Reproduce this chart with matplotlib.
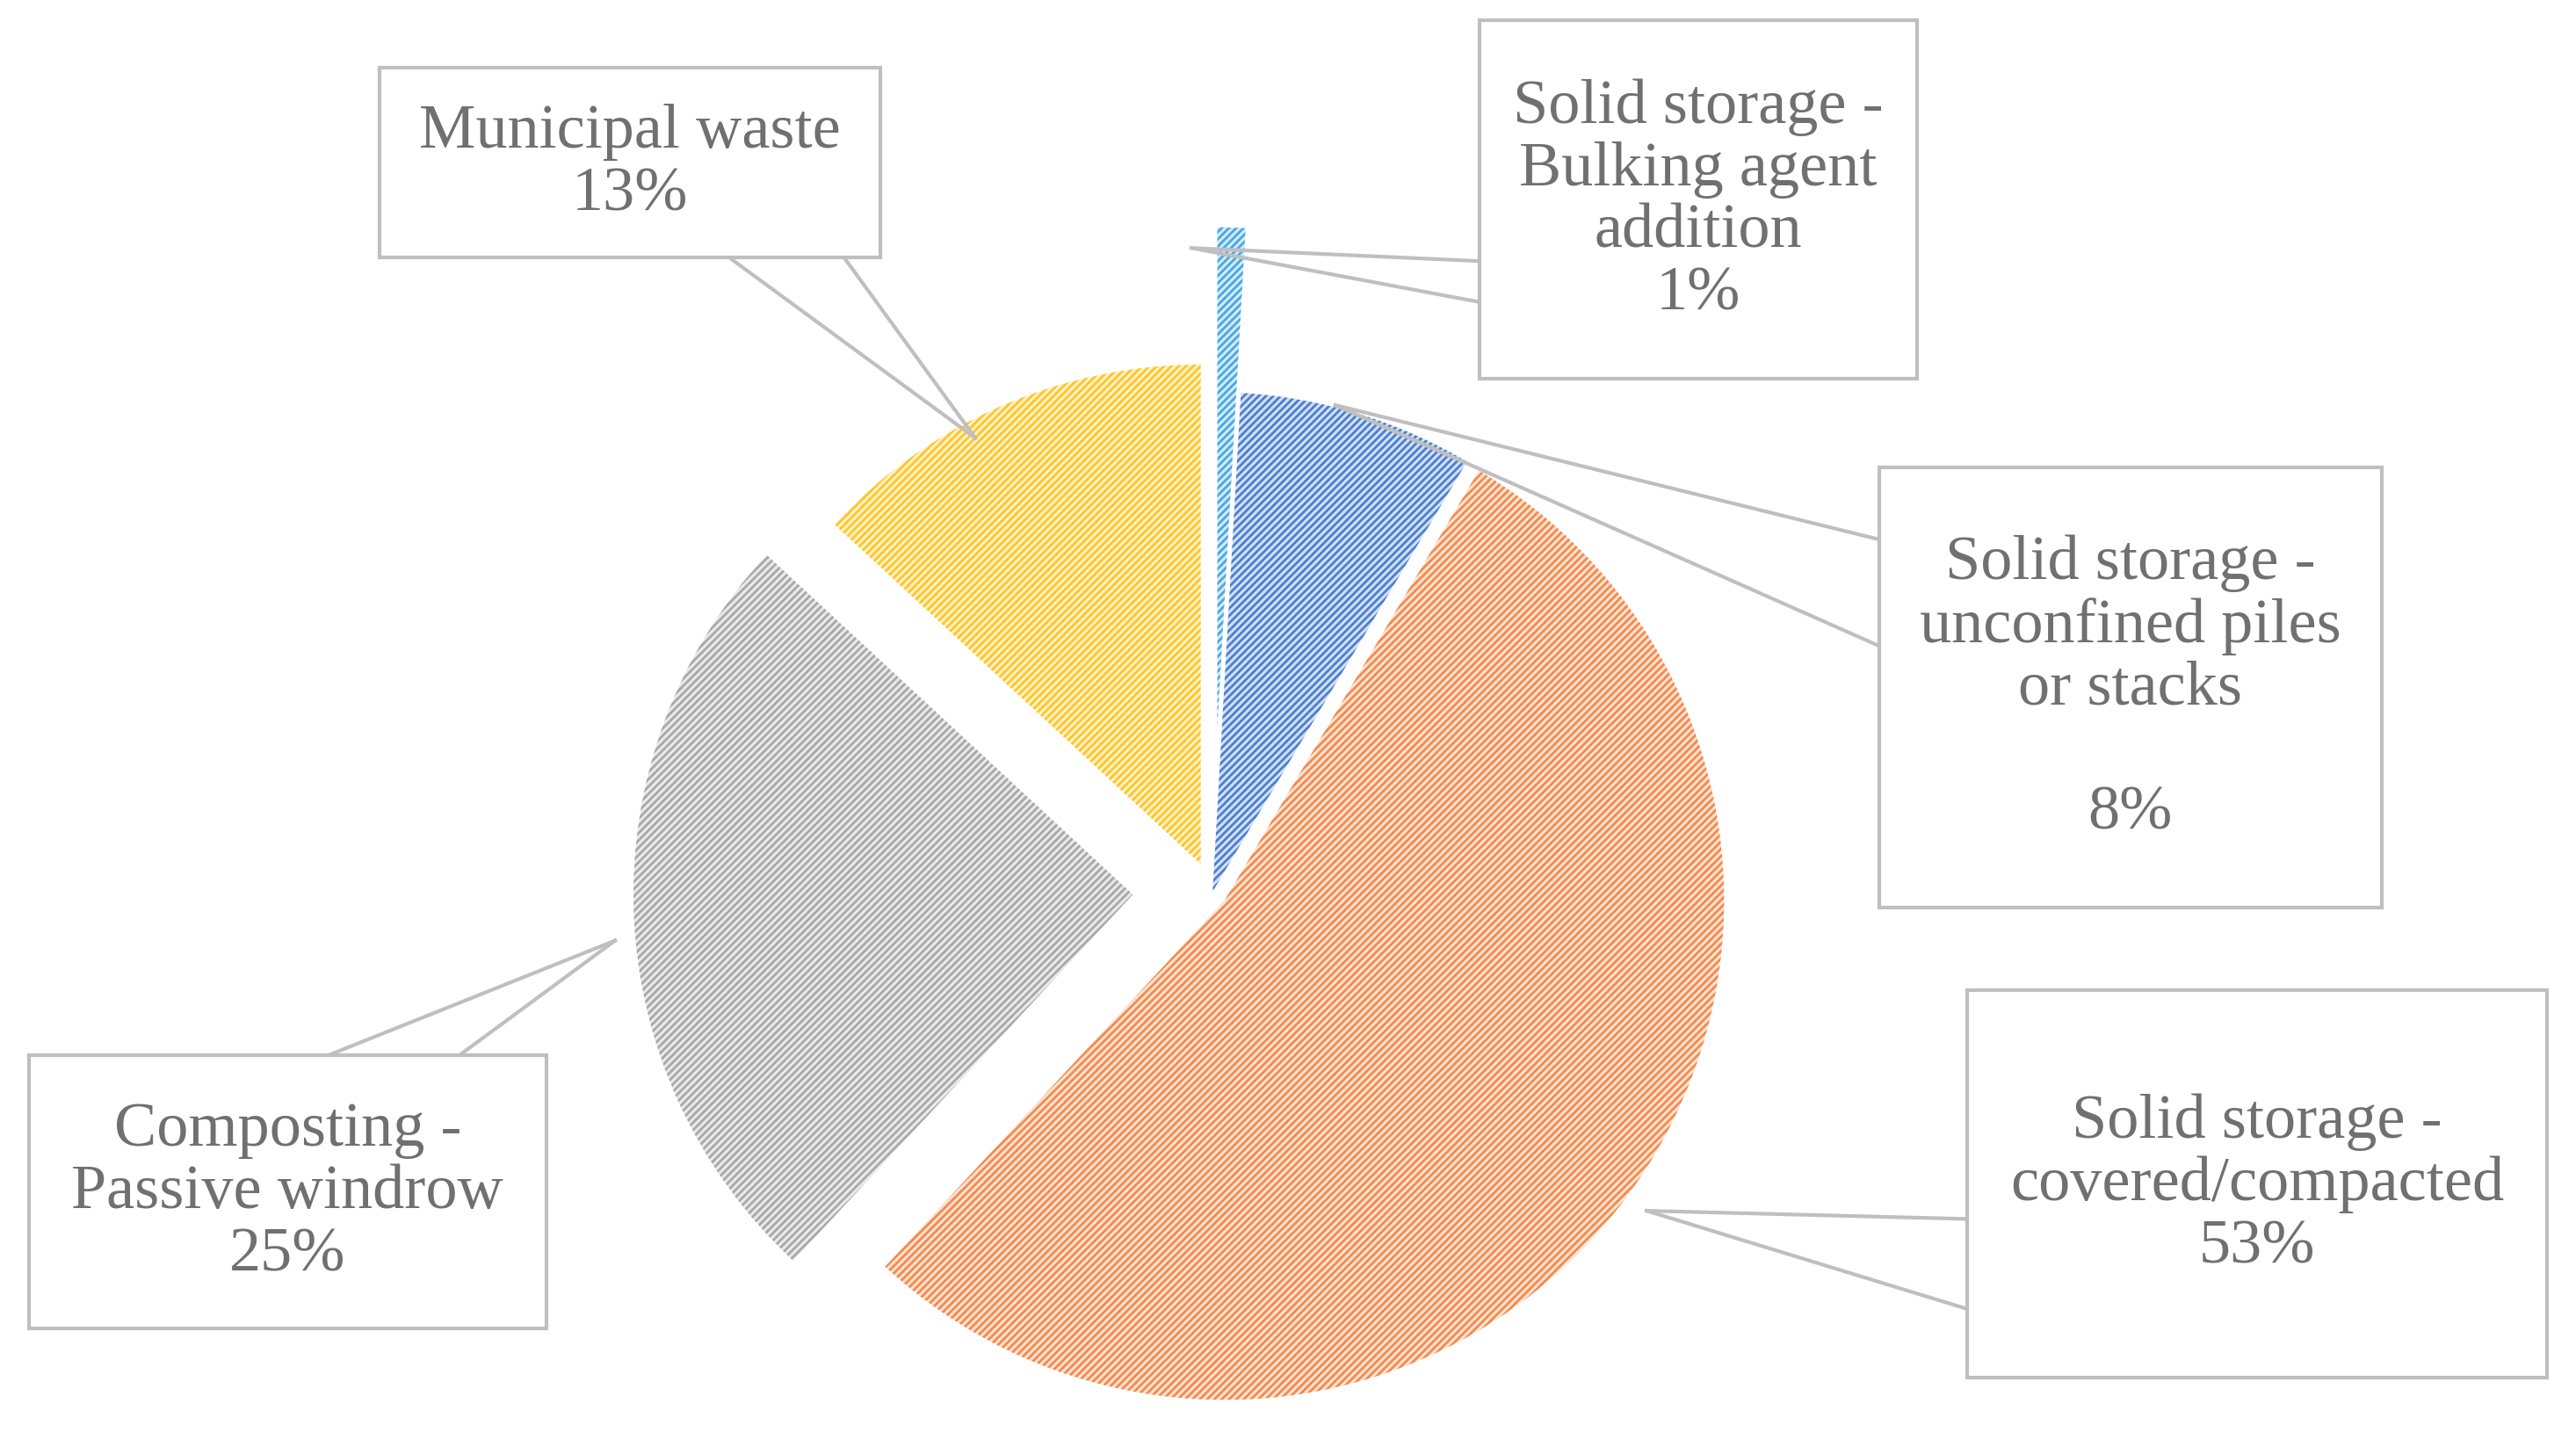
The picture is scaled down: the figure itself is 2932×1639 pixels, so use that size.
import matplotlib.pyplot as plt
import matplotlib.colors as mcolors
from matplotlib.patches import Rectangle

labels = ["Solid storage -\nBulking agent\naddition\n1%",
          "Solid storage -\nunconfined piles\nor stacks\n\n8%",
          "Solid storage -\ncovered/compacted\n53%",
          "Composting -\nPassive windrow\n25%",
          "Municipal waste\n13%"]
shares = [0.9, 7.6, 53.4, 25.0, 13.1]
colors = ["#4aa8e0", "#4a7fd0", "#f4894a", "#a8a8a8", "#ffc525"]
explode = [0.33, 0.0, 0.03, 0.16, 0.06]

R = 305
plt.rcParams["hatch.linewidth"] = 2.0
fig = plt.figure(figsize=(29.32, 16.4), dpi=100)
ax = fig.add_axes([0, 0, 1, 1])

W = 880  # image height used to flip y
wedges, _ = ax.pie(shares, startangle=90, counterclock=False,
                   explode=[e * R for e in explode],
                   center=(735, W - 545), radius=R, colors=colors, frame=True)
ax.set_xlim(0, 1562)
ax.set_ylim(0, 880)
ax.set_aspect("equal")
ax.axis("off")
for w, c in zip(wedges, colors):
    light = tuple(1 - 0.25 * (1 - v) for v in mcolors.to_rgb(c))
    w.set_facecolor(light)
    w.set_edgecolor(c)
    w.set_hatch("////")
    w.set_linewidth(0)

# callout boxes: (x0, y0, x1, y1) in image coords, pointer base pts, tip
boxes = [
    ((898, 13, 1165, 232), [(898, 185), (898, 160)], (722, 152)),
    ((1142, 286, 1449, 555), [(1142, 330), (1142, 395)], (810, 248)),
    ((1196, 605, 1550, 842), [(1196, 745), (1196, 800)], (1000, 740)),
    ((12, 645, 328, 812), [(195, 645), (275, 645)], (370, 575)),
    ((226, 42, 532, 158), [(440, 158), (510, 158)], (590, 268)),
]

for lab, ((x0, y0, x1, y1), base, tip) in zip(labels, boxes):
    ax.add_patch(Rectangle((x0, W - y1), x1 - x0, y1 - y0, facecolor="white",
                           edgecolor="#bfbfbf", lw=3, zorder=3))
    for bx, by in base:
        ax.plot([bx, tip[0]], [W - by, W - tip[1]], color="#bfbfbf", lw=3, zorder=2)
    ax.text((x0 + x1) / 2, W - (y0 + y1) / 2, lab, ha="center", va="center",
            fontsize=52, color="#707070", family="Liberation Serif",
            linespacing=1.12, zorder=4)

fig.savefig("out.png", dpi=100)
